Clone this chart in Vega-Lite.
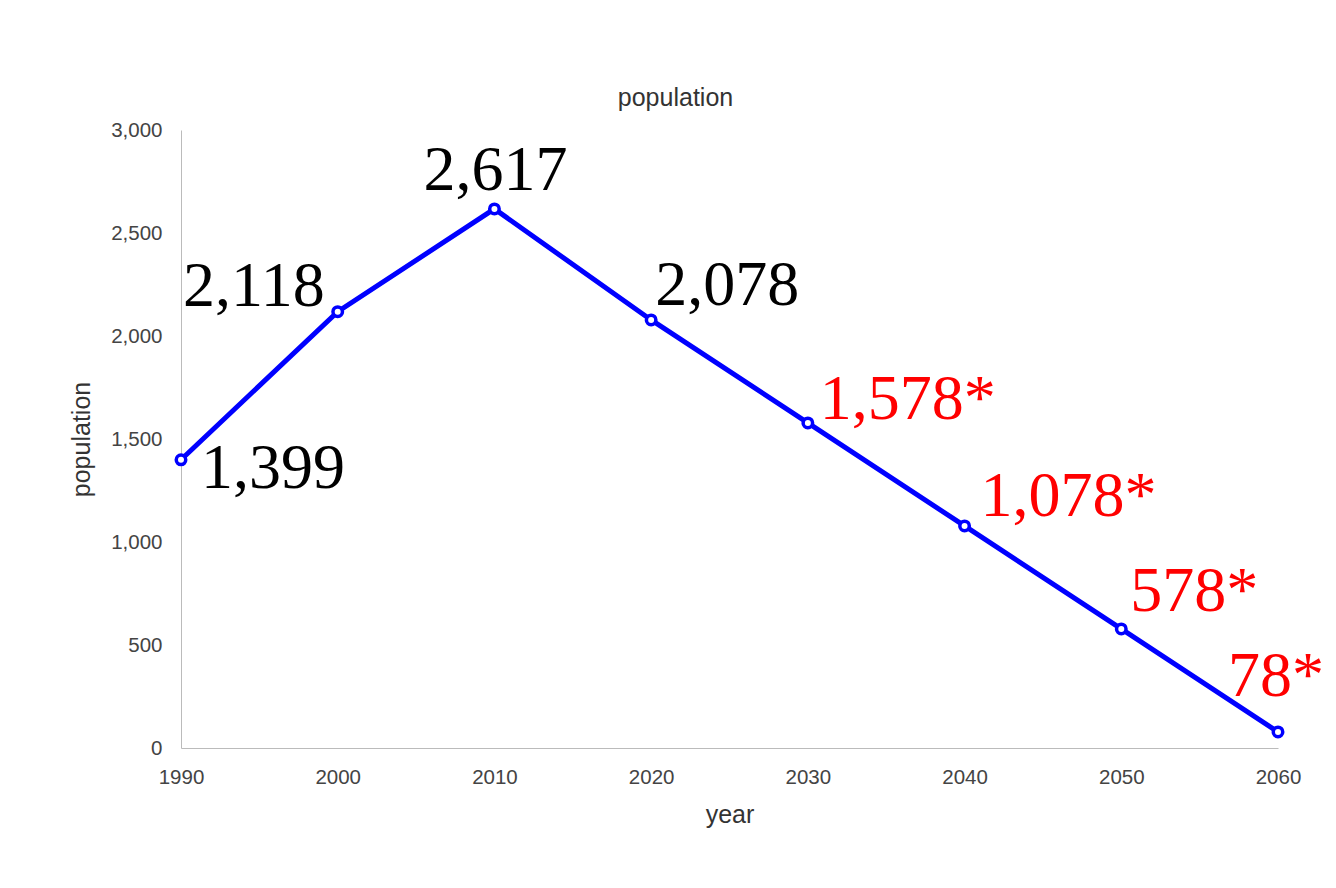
{
  "$schema": "https://vega.github.io/schema/vega-lite/v6.json",
  "autosize": {"type": "none"},
  "width": 1097,
  "height": 618,
  "padding": {"left": 181, "top": 130, "right": 58, "bottom": 140},
  "background": "white",
  "title": {"text": "population", "font": "Liberation Sans", "fontSize": 25, "fontWeight": "normal", "color": "#333", "dx": -54, "offset": 9},
  "data": {"values": [
    {"year": 1990, "population": 1399, "label": "1,399", "kind": "actual"},
    {"year": 2000, "population": 2118, "label": "2,118", "kind": "actual"},
    {"year": 2010, "population": 2617, "label": "2,617", "kind": "actual"},
    {"year": 2020, "population": 2078, "label": "2,078", "kind": "actual"},
    {"year": 2030, "population": 1578, "label": "1,578*", "kind": "projected"},
    {"year": 2040, "population": 1078, "label": "1,078*", "kind": "projected"},
    {"year": 2050, "population": 578, "label": "578*", "kind": "projected"},
    {"year": 2060, "population": 78, "label": "78*", "kind": "projected"}
  ]},
  "encoding": {
    "x": {"field": "year", "type": "quantitative", "scale": {"domain": [1990, 2060], "nice": false, "zero": false},
      "axis": {"title": "year", "values": [1990, 2000, 2010, 2020, 2030, 2040, 2050, 2060], "format": "d", "labelFlush": false, "labelOverlap": false, "grid": false, "ticks": false, "domainColor": "#bbb", "labelFont": "Liberation Sans", "labelFontSize": 20.5, "labelColor": "#444", "labelPadding": 19, "titleFont": "Liberation Sans", "titleFontSize": 25, "titleFontWeight": "normal", "titleColor": "#333", "titlePadding": 15}},
    "y": {"field": "population", "type": "quantitative", "scale": {"domain": [0, 3000], "nice": false},
      "axis": {"title": "population", "values": [0, 500, 1000, 1500, 2000, 2500, 3000], "format": ",d", "labelFlush": false, "labelOverlap": false, "grid": false, "ticks": false, "domainColor": "#bbb", "labelFont": "Liberation Sans", "labelFontSize": 20.5, "labelColor": "#444", "labelPadding": 19, "titleFont": "Liberation Sans", "titleFontSize": 25, "titleFontWeight": "normal", "titleColor": "#333", "titlePadding": 16}}
  },
  "layer": [
    {"mark": {"type": "line", "color": "#0000ff", "strokeWidth": 5}},
    {"mark": {"type": "point", "shape": "circle", "filled": true, "fill": "white", "stroke": "#0000ff", "strokeWidth": 3.5, "size": 90, "opacity": 1}},
    {"transform": [{"filter": "datum.year == 1990"}],
      "mark": {"type": "text", "font": "Liberation Serif", "fontSize": 64, "align": "left", "baseline": "alphabetic", "dx": 20, "dy": 28},
      "encoding": {"text": {"field": "label"}, "color": {"field": "kind", "type": "nominal", "scale": {"domain": ["actual", "projected"], "range": ["#000000", "#ff0000"]}, "legend": null}}},
    {"transform": [{"filter": "datum.year == 2000"}],
      "mark": {"type": "text", "font": "Liberation Serif", "fontSize": 64, "align": "right", "baseline": "alphabetic", "dx": -13, "dy": -6},
      "encoding": {"text": {"field": "label"}, "color": {"field": "kind", "type": "nominal", "scale": {"domain": ["actual", "projected"], "range": ["#000000", "#ff0000"]}, "legend": null}}},
    {"transform": [{"filter": "datum.year == 2010"}],
      "mark": {"type": "text", "font": "Liberation Serif", "fontSize": 64, "align": "center", "baseline": "alphabetic", "dx": 1, "dy": -19},
      "encoding": {"text": {"field": "label"}, "color": {"field": "kind", "type": "nominal", "scale": {"domain": ["actual", "projected"], "range": ["#000000", "#ff0000"]}, "legend": null}}},
    {"transform": [{"filter": "datum.year == 2020"}],
      "mark": {"type": "text", "font": "Liberation Serif", "fontSize": 64, "align": "left", "baseline": "alphabetic", "dx": 4, "dy": -15},
      "encoding": {"text": {"field": "label"}, "color": {"field": "kind", "type": "nominal", "scale": {"domain": ["actual", "projected"], "range": ["#000000", "#ff0000"]}, "legend": null}}},
    {"transform": [{"filter": "datum.year == 2030"}],
      "mark": {"type": "text", "font": "Liberation Serif", "fontSize": 64, "align": "left", "baseline": "alphabetic", "dx": 12, "dy": -4},
      "encoding": {"text": {"field": "label"}, "color": {"field": "kind", "type": "nominal", "scale": {"domain": ["actual", "projected"], "range": ["#000000", "#ff0000"]}, "legend": null}}},
    {"transform": [{"filter": "datum.year == 2040"}],
      "mark": {"type": "text", "font": "Liberation Serif", "fontSize": 64, "align": "left", "baseline": "alphabetic", "dx": 16, "dy": -10},
      "encoding": {"text": {"field": "label"}, "color": {"field": "kind", "type": "nominal", "scale": {"domain": ["actual", "projected"], "range": ["#000000", "#ff0000"]}, "legend": null}}},
    {"transform": [{"filter": "datum.year == 2050"}],
      "mark": {"type": "text", "font": "Liberation Serif", "fontSize": 64, "align": "left", "baseline": "alphabetic", "dx": 9, "dy": -18},
      "encoding": {"text": {"field": "label"}, "color": {"field": "kind", "type": "nominal", "scale": {"domain": ["actual", "projected"], "range": ["#000000", "#ff0000"]}, "legend": null}}},
    {"transform": [{"filter": "datum.year == 2060"}],
      "mark": {"type": "text", "font": "Liberation Serif", "fontSize": 64, "align": "left", "baseline": "alphabetic", "dx": -50, "dy": -36},
      "encoding": {"text": {"field": "label"}, "color": {"field": "kind", "type": "nominal", "scale": {"domain": ["actual", "projected"], "range": ["#000000", "#ff0000"]}, "legend": null}}}
  ],
  "config": {"view": {"stroke": null}}
}
